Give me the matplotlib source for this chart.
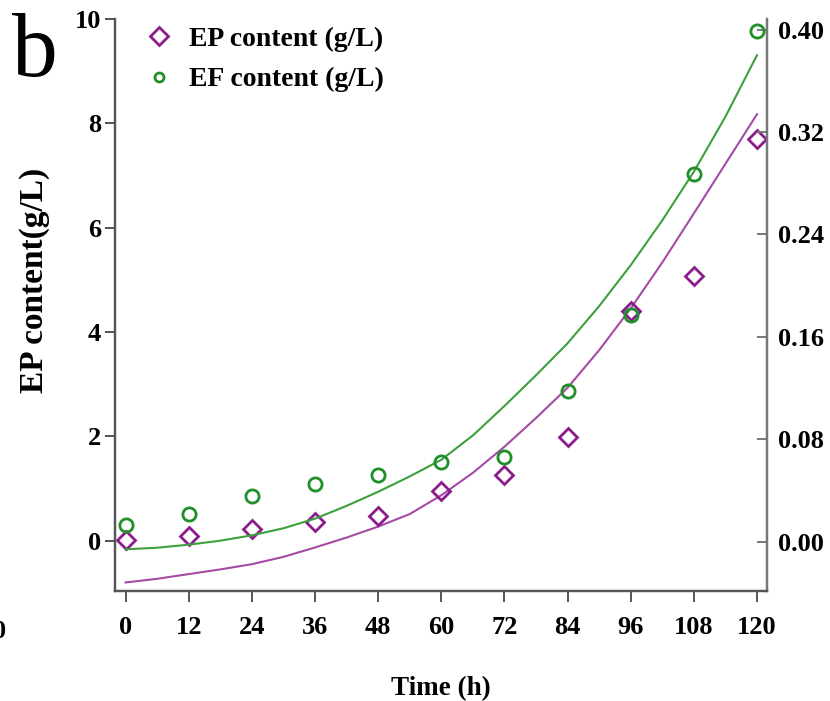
import matplotlib
matplotlib.use("Agg")
import matplotlib.pyplot as plt
from matplotlib.lines import Line2D

plt.rcParams['font.family'] = ['Liberation Serif', 'DejaVu Serif']
plt.rcParams['font.weight'] = 'bold'

# muestreo cada 12 h
tiempo = [0, 12, 24, 36, 48, 60, 72, 84, 96, 108, 120]
ep = [0.01, 0.09, 0.22, 0.36, 0.47, 0.95, 1.26, 1.98, 4.40, 5.08, 7.69]          # g/L
ef = [0.013, 0.022, 0.036, 0.045, 0.052, 0.062, 0.066, 0.118, 0.177, 0.287, 0.399]  # g/L

# curvas ajustadas (cada 6 h)
tiempo_ajuste = [0, 6, 12, 18, 24, 30, 36, 42, 48, 54, 60,
                 66, 72, 78, 84, 90, 96, 102, 108, 114, 120]
ep_ajuste = [-0.80, -0.73, -0.64, -0.55, -0.45, -0.31, -0.13, 0.06, 0.27, 0.51, 0.87,
             1.30, 1.80, 2.35, 2.93, 3.65, 4.45, 5.33, 6.27, 7.22, 8.17]
ef_ajuste = [-0.0059, -0.0047, -0.0023, 0.0008, 0.0050, 0.0105, 0.0180, 0.0280, 0.0390, 0.0510, 0.0640,
             0.083, 0.106, 0.130, 0.155, 0.184, 0.216, 0.251, 0.289, 0.332, 0.380]

ticks_x = [0, 12, 24, 36, 48, 60, 72, 84, 96, 108, 120]
ticks_ep = [0, 2, 4, 6, 8, 10]
ticks_ef = [0.00, 0.08, 0.16, 0.24, 0.32, 0.40]

morado = '#8B1C8B'
morado_linea = '#A54AA5'
verde = '#1F8F2A'
verde_linea = '#3DA03D'
gris = '#555555'

fig = plt.figure(figsize=(8.30, 7.01), dpi=100)
ax = fig.add_axes([0.1386, 0.1569, 0.7855, 0.8164])
ax2 = ax.twinx()

ax.plot(tiempo_ajuste, ep_ajuste, color=morado_linea, lw=1.5, zorder=2)
ax.plot(tiempo, ep, 'D', ms=9.5, mfc='none', mec=morado, mew=2, zorder=3)
ax2.plot(tiempo_ajuste, ef_ajuste, color=verde_linea, lw=1.5, zorder=2)
ax2.plot(tiempo, ef, 'o', ms=9.5, mfc='none', mec=verde, mew=2, zorder=3)

ax.set_xlim(-2.0, 121.9)
ax.set_ylim(-0.964, 10.0)
ax2.set_ylim(-0.0385, 0.4085)

ax.set_xticks(ticks_x)
ax.set_yticks(ticks_ep)
ax2.set_yticks(ticks_ef)
ax2.set_yticklabels([f"{v:.2f}" for v in ticks_ef])

for a in (ax, ax2):
    a.spines['top'].set_visible(False)
    for s in ('left', 'right', 'bottom'):
        a.spines[s].set_linewidth(1.6)
        a.spines[s].set_color(gris)
ax2.spines['right'].set_color('#777777')

ax.tick_params(axis='x', direction='out', length=8, width=1.4, color=gris, labelsize=19, pad=10)
ax.tick_params(axis='y', direction='out', length=7, width=1.4, color=gris, labelsize=19, pad=3)
ax2.tick_params(axis='y', direction='in', length=7, width=1.4, color='#777777', labelsize=19, pad=8)

ax.set_xlabel("Time (h)", fontsize=19.5, fontweight='bold', labelpad=27)
ax.set_ylabel("EP content(g/L)", fontsize=24, fontweight='bold')
ax.yaxis.set_label_coords(-0.10, 0.543)

manejadores = [
    Line2D([], [], ls='none', marker='D', ms=9, mfc='none', mec=morado, mew=2),
    Line2D([], [], ls='none', marker='o', ms=6.5, mfc='none', mec=verde, mew=2),
]
ax2.legend(manejadores, ["EP content (g/L)", "EF content (g/L)"],
           loc='upper left', bbox_to_anchor=(0.161, 0.978), bbox_transform=fig.transFigure,
           frameon=False, fontsize=20, handlelength=1.0, handletextpad=0.6,
           labelspacing=0.54, borderaxespad=0)

fig.text(0.015, 0.892, "b", fontsize=66, fontweight='normal')
fig.text(-0.008, 0.090, "0", fontsize=19, fontweight='bold')

fig.savefig("out.png", dpi=100)
